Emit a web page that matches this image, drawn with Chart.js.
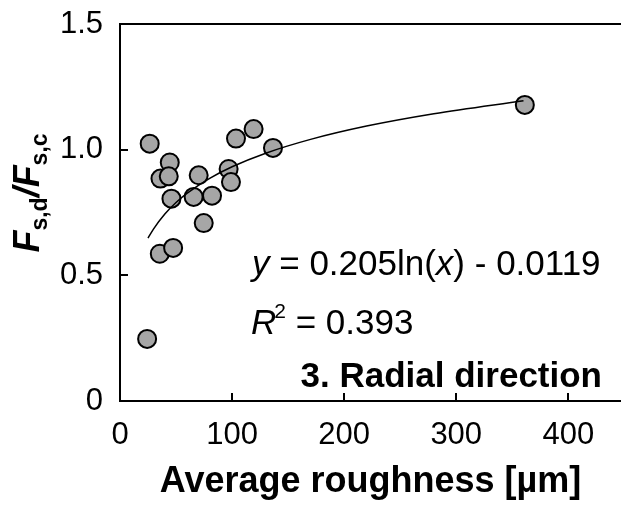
<!DOCTYPE html>
<html>
<head>
<meta charset="utf-8">
<script src="https://cdn.jsdelivr.net/npm/chart.js@4.4.1/dist/chart.umd.min.js"></script>
<style>
  html, body { margin: 0; padding: 0; background: #fff; overflow: hidden; }
  #chart { display: block; }
</style>
</head>
<body>
<canvas id="chart" width="621" height="508"></canvas>
<script>
// measured points (average roughness in um, Fs,d/Fs,c)
var roughness = [26.5, 44.4, 36.1, 43.5, 45.9, 70.2, 65.7, 82.1, 74.7, 96.9, 99.0, 103.5, 119.2, 136.5, 35.5, 47.4, 24.2, 361.2];
var ratio     = [1.024, 0.949, 0.885, 0.894, 0.805, 0.898, 0.812, 0.817, 0.708, 0.923, 0.871, 1.044, 1.082, 1.007, 0.586, 0.609, 0.247, 1.178];

// points read along the drawn log trendline
var fitX = [25, 30, 40, 50, 60, 80, 100, 130, 170, 220, 280, 360];
var fitY = [0.648, 0.685, 0.744, 0.790, 0.827, 0.886, 0.932, 0.986, 1.041, 1.094, 1.143, 1.195];

var xTicks = [0, 100, 200, 300, 400];
var yTicks = [0, 0.5, 1.0, 1.5];

var xTitle = 'Average roughness [\u00b5m]';
var eqParts = [['y', 'italic'], [' = 0.205ln(', 'normal'], ['x', 'italic'], [') - 0.0119', 'normal']];
var r2Value = ' = 0.393';
var panelLabel = '3. Radial direction';

var FONT = '"Liberation Sans", Arial, sans-serif';

function pts(xs, ys) {
  return xs.map(function(x, i) { return {x: x, y: ys[i]}; });
}

function noPad(s) {
  s.paddingTop = 0; s.paddingBottom = 0; s.paddingLeft = 0; s.paddingRight = 0;
}

// inward tick marks, top frame line, annotations, y axis title
var decorations = {
  id: 'decorations',
  afterDraw: function(chart) {
    var ctx = chart.ctx, a = chart.chartArea;
    var xs = chart.scales.x, ys = chart.scales.y;
    ctx.save();
    ctx.strokeStyle = '#000';
    ctx.lineWidth = 2;
    ctx.beginPath();
    ctx.moveTo(a.left - 1, a.top);
    ctx.lineTo(a.right, a.top);
    xTicks.forEach(function(v) {
      if (v === 0) return;
      var px = Math.round(xs.getPixelForValue(v));
      ctx.moveTo(px, a.bottom);
      ctx.lineTo(px, a.bottom - 8);
    });
    yTicks.forEach(function(v) {
      if (v === 0) return;
      var py = Math.round(ys.getPixelForValue(v));
      ctx.moveTo(a.left, py);
      ctx.lineTo(a.left + 8, py);
    });
    ctx.stroke();

    ctx.fillStyle = '#000';
    ctx.textBaseline = 'alphabetic';
    ctx.textAlign = 'left';

    // equation
    var x = 252;
    eqParts.forEach(function(p) {
      ctx.font = p[1] + ' 35px ' + FONT;
      ctx.fillText(p[0], x, 275);
      x += ctx.measureText(p[0]).width;
    });

    // R^2
    x = 251;
    ctx.font = 'italic 35px ' + FONT;
    ctx.fillText('R', x, 334);
    x += ctx.measureText('R').width;
    ctx.font = '21px ' + FONT;
    ctx.fillText('2', x - 2, 318);
    x += ctx.measureText('2').width - 2;
    ctx.font = '35px ' + FONT;
    ctx.fillText(r2Value, x, 334);

    // panel label
    ctx.font = 'bold 35px ' + FONT;
    ctx.textAlign = 'right';
    ctx.fillText(panelLabel, 602, 387);

    // rotated y axis title: F s,d / F s,c
    ctx.translate(39, 193);
    ctx.rotate(-Math.PI / 2);
    ctx.textAlign = 'left';
    var parts = [
      ['F', 'italic bold 36px ', 0],
      ['s,d', 'bold 23px ', 8],
      ['/', 'italic bold 36px ', 0],
      ['F', 'italic bold 36px ', 0],
      ['s,c', 'bold 23px ', 8]
    ];
    var total = 0;
    parts.forEach(function(p) { ctx.font = p[1] + FONT; total += ctx.measureText(p[0]).width; });
    var cx = -total / 2;
    parts.forEach(function(p) {
      ctx.font = p[1] + FONT;
      ctx.fillText(p[0], cx, p[2]);
      cx += ctx.measureText(p[0]).width;
    });
    ctx.restore();
  }
};

new Chart(document.getElementById('chart'), {
  type: 'scatter',
  data: {
    datasets: [
      {
        type: 'line',
        data: pts(fitX, fitY),
        borderColor: '#000',
        borderWidth: 1.5,
        pointRadius: 0,
        fill: false,
        cubicInterpolationMode: 'monotone',
        order: 0
      },
      {
        data: pts(roughness, ratio),
        backgroundColor: '#a6a6a6',
        borderColor: '#000',
        borderWidth: 2,
        pointRadius: 9,
        order: 1
      }
    ]
  },
  options: {
    responsive: false,
    animation: false,
    layout: { autoPadding: false, padding: { top: 24, right: 0, left: 0, bottom: 0 } },
    plugins: { legend: { display: false }, tooltip: { enabled: false } },
    scales: {
      x: {
        type: 'linear',
        min: 0,
        max: 447,
        afterBuildTicks: function(s) { s.ticks = xTicks.map(function(v) { return {value: v}; }); },
        afterFit: function(s) { s.height = 107; noPad(s); },
        grid: { display: false, drawTicks: false },
        border: { display: true, color: '#000', width: 2 },
        ticks: {
          color: '#000',
          padding: 16,
          maxRotation: 0,
          font: { family: FONT, size: 31 },
          callback: function(v) { return String(v); }
        },
        title: {
          display: true,
          text: xTitle,
          color: '#000',
          padding: { top: 0, bottom: 4 },
          font: { family: FONT, size: 36, weight: 'bold' }
        }
      },
      y: {
        min: 0,
        max: 1.5,
        afterBuildTicks: function(s) { s.ticks = yTicks.map(function(v) { return {value: v}; }); },
        afterFit: function(s) { s.width = 120; noPad(s); },
        grid: { display: false, drawTicks: false },
        border: { display: true, color: '#000', width: 2 },
        ticks: {
          color: '#000',
          padding: 17,
          font: { family: FONT, size: 31 },
          callback: function(v) { return v === 0 ? '0' : v.toFixed(1); }
        }
      }
    }
  },
  plugins: [decorations]
});
</script>
</body>
</html>
